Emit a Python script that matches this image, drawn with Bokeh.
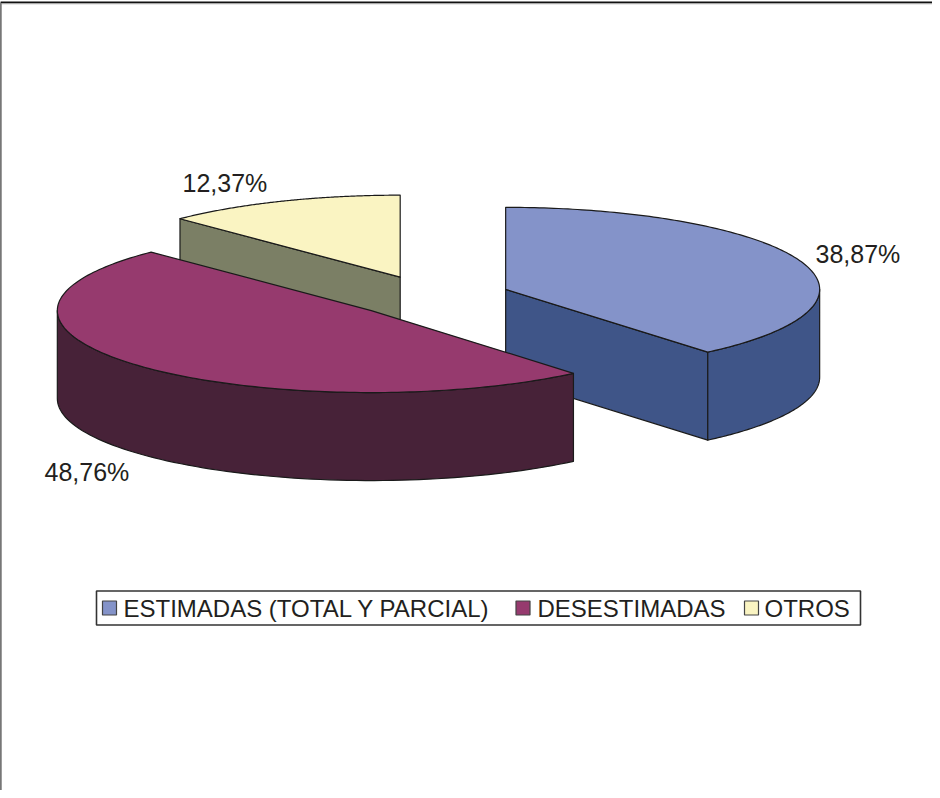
import numpy as np
from bokeh.plotting import figure
from bokeh.models import Range1d
from bokeh.core.properties import value
from bokeh.embed import file_html
from bokeh.resources import INLINE

categories = ["ESTIMADAS (TOTAL Y PARCIAL)", "DESESTIMADAS", "OTROS"]
shares = [38.87, 48.76, 12.37]
labels = ["38,87%", "48,76%", "12,37%"]
top_colors = ["#8493C9", "#963A6E", "#FAF4C2"]
side_colors = ["#3F5588", "#472238", "#7B7F65"]

FONT = value("Liberation Sans")
TEXT = "#231F20"
CX, CY, RX, RY, DEPTH, EXPLODE = 438.0, 304.0, 314.0, 82.0, 88.0, 80.0
LABEL_POS = [(823, 261.5), (52, 479.5), (190, 190.5)]
LEGEND_BOX = (104, 598.5, 868, 632.5)
SWATCH_X = [110, 523.5, 752]
TEXT_X = [131, 545, 772]

p = figure(width=932, height=790, output_backend="svg", toolbar_location=None,
           x_range=Range1d(8, 940), y_range=Range1d(798, 8), min_border=0,
           outline_line_color=None, background_fill_color="white")
p.axis.visible = False
p.grid.visible = False

# frame
p.line([8.5, 8.5, 940], [798, 11, 11], line_color="#A8A8A8", line_width=1.5)
p.line([8, 8, 940], [798, 9.7, 9.7], line_color="#111111", line_width=1.4)


def pt(c, deg):
    t = np.radians(deg)
    return c[0] + RX * np.sin(t), c[1] - RY * np.cos(t)


ends = np.cumsum(shares) * 3.6
starts = ends - np.array(shares) * 3.6
slices = []
for i in range(3):
    mid = np.radians((starts[i] + ends[i]) / 2)
    c = (CX + EXPLODE * np.sin(mid), CY - EXPLODE * np.cos(mid) * RY / RX)
    slices.append((c, starts[i], ends[i], i))

# back to front
for c, a0, a1, i in sorted(slices, key=lambda s: s[0][1]):
    stroke = dict(line_color="#1A1A1A", line_width=1.2, line_join="round")
    walls = []
    if np.sin(np.radians(a0)) < 0:
        walls.append(a0)
    if np.sin(np.radians(a1)) > 1e-6:
        walls.append(a1)
    for a in walls:
        ex, ey = pt(c, a)
        p.patch([c[0], ex, ex, c[0]], [c[1], ey, ey + DEPTH, c[1] + DEPTH],
                fill_color=side_colors[i], **stroke)
    r0, r1 = max(a0, 90), min(a1, 270)
    if r1 > r0:
        ts = np.linspace(r0, r1, 80)
        xs, ys = pt(c, ts)
        p.patch(np.r_[xs, xs[::-1]], np.r_[ys, ys[::-1] + DEPTH],
                fill_color=side_colors[i], **stroke)
    ts = np.linspace(a0, a1, 160)
    xs, ys = pt(c, ts)
    p.patch(np.r_[c[0], xs], np.r_[c[1], ys], fill_color=top_colors[i], **stroke)

# data labels
p.text([q[0] for q in LABEL_POS], [q[1] for q in LABEL_POS], text=labels,
       text_font=FONT, text_font_size="25px", text_color=TEXT,
       text_align="left", text_baseline="middle")

# legend
x0, y0, x1, y1 = LEGEND_BOX
p.quad(left=[x0], right=[x1], top=[y0], bottom=[y1], fill_color="white",
       line_color="#333333", line_width=1.6)
ym = (y0 + y1) / 2
p.quad(left=SWATCH_X, right=[x + 14 for x in SWATCH_X], top=[ym - 7] * 3,
       bottom=[ym + 7] * 3, fill_color=top_colors, line_color="#444444", line_width=1.2)
p.text(TEXT_X, [ym] * 3, text=categories, text_font=FONT, text_font_size="24px",
       text_color=TEXT, text_align="left", text_baseline="middle")

open("out.html", "w").write(file_html(p, INLINE))
